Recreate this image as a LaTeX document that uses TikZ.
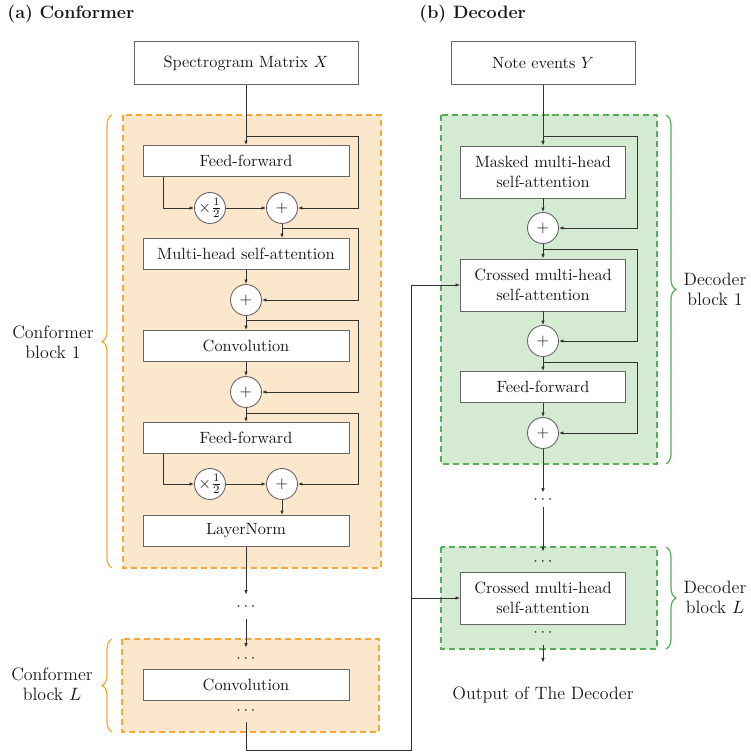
\documentclass[tikz,border=0pt]{standalone}
\usetikzlibrary{arrows.meta,decorations.pathreplacing,calc}
\definecolor{obord}{HTML}{F5A83A}
\definecolor{ofill}{HTML}{FBE7CC}
\definecolor{gbord}{HTML}{55B055}
\definecolor{gfill}{HTML}{D5EAD3}
\definecolor{lnc}{HTML}{333333}
\begin{document}
\begin{tikzpicture}[x=0.6135pt,y=-0.6135pt,
  font=\fontsize{10}{12.6}\selectfont,
  every node/.style={text=black!90},
  line width=0.5pt,
  blk/.style={draw=black!60, fill=white, line width=0.55pt, minimum width=126.4pt, minimum height=19pt, inner sep=0pt, align=center},
  dblk/.style={blk, minimum width=101.2pt, minimum height=31.9pt},
  sumc/.style={circle, draw=black!60, fill=white, line width=0.55pt, minimum size=19pt, inner sep=0pt},
  dotsn/.style={inner sep=0pt, text height=3.7pt, text depth=0pt, minimum height=13.5pt},
  arr/.style={draw=lnc, line width=0.5pt, -{Latex[length=2.8pt,width=2.2pt]}},
  obox/.style={draw=obord, fill=ofill, line width=0.8pt, dash pattern=on 3.7pt off 2.45pt},
  gbox/.style={draw=gbord, fill=gfill, line width=0.8pt, dash pattern=on 3.7pt off 2.45pt},
  obrace/.style={draw=obord, line width=0.74pt, decorate, decoration={brace, amplitude=6.1pt}},
  gbrace/.style={draw=gbord, line width=0.74pt, decorate, decoration={brace, amplitude=6.1pt}},
  lbl/.style={align=center, inner sep=0pt, font=\fontsize{11}{12.3}\selectfont},
  ttl/.style={anchor=west, inner sep=0pt, font=\fontsize{11}{13.6}\selectfont\bfseries}
]
\useasboundingbox (0,0) rectangle (751,753);

% titles
\node[ttl] (ta) at (7,14) {(a) Conformer};
\node[ttl] (tb) at (419,14) {(b) Decoder};

% block backgrounds
\draw[obox] (123,115) rectangle (381,568);
\draw[obox] (122,639) rectangle (379,732);
\draw[gbox] (441,115) rectangle (657,464);
\draw[gbox] (441,547) rectangle (657,649);

% braces
\draw[obrace] (112,568) -- (112,115);
\draw[obrace] (112,732) -- (112,639);
\draw[gbrace] (666,115) -- (666,464);
\draw[gbrace] (666,547) -- (666,649);
\node[lbl] (lc1) at (53,342) {Conformer\\block 1};
\node[lbl] (lcL) at (52,684) {Conformer\\block $L$};
\node[lbl] (ld1) at (715,289) {Decoder\\block 1};
\node[lbl] (ldL) at (715,597) {Decoder\\block $L$};

% ---------------- Conformer ----------------
\node[blk, minimum width=137.4pt, minimum height=26.4pt] (spec) at (246,63) {Spectrogram Matrix $X$};
\node[blk] (ff1) at (246,161) {Feed-forward};
\node[sumc] (h1) at (210,208) {$\times\frac{1}{2}$};
\node[sumc] (p1) at (282,208) {$+$};
\node[blk] (mhsa) at (246,254) {Multi-head self-attention};
\node[sumc] (p2) at (246,300) {$+$};
\node[blk] (conv) at (246,346) {Convolution};
\node[sumc] (p3) at (246,392) {$+$};
\node[blk] (ff2) at (246,438) {Feed-forward};
\node[sumc] (h2) at (210,484) {$\times\frac{1}{2}$};
\node[sumc] (p4) at (282,484) {$+$};
\node[blk] (lnorm) at (246,531) {LayerNorm};
\node[dotsn, minimum height=14.7pt] (d1) at (246,607) {$\cdots$};
\node[dotsn] (dL1) at (246,659) {$\cdots$};
\node[blk] (convL) at (246,685) {Convolution};
\node[dotsn] (dL2) at (246,711) {$\cdots$};

\coordinate (b1) at (163,0);
\coordinate (c1) at (246,136); \coordinate (k1) at (358,208);
\coordinate (c2) at (282,228); \coordinate (k2) at (358,300);
\coordinate (c3) at (246,320); \coordinate (k3) at (358,392);
\coordinate (c4) at (246,413); \coordinate (k4) at (358,484);

\draw[arr] (spec) -- (ff1);
\draw[arr] (c1) -| (k1) -- (p1.east);
\draw[arr] (ff1.south -| b1) |- (h1.west);
\draw[arr] (h1) -- (p1);
\draw[arr] (p1.south) -- (p1.south |- mhsa.north);
\draw[arr] (c2) -| (k2) -- (p2.east);
\draw[arr] (mhsa) -- (p2);
\draw[arr] (p2) -- (conv);
\draw[arr] (c3) -| (k3) -- (p3.east);
\draw[arr] (conv) -- (p3);
\draw[arr] (p3) -- (ff2);
\draw[arr] (c4) -| (k4) -- (p4.east);
\draw[arr] (ff2.south -| b1) |- (h2.west);
\draw[arr] (h2) -- (p4);
\draw[arr] (p4.south) -- (p4.south |- lnorm.north);
\draw[arr] (lnorm) -- (d1);
\draw[arr] (d1) -- (dL1);

% ---------------- Decoder ----------------
\node[blk, minimum width=112.9pt, minimum height=26.4pt] (note) at (543,63) {Note events $Y$};
\node[dblk] (mask) at (543,172) {Masked multi-head\\self-attention};
\node[sumc] (q1) at (543,228) {$+$};
\node[dblk] (cr1) at (543,285) {Crossed multi-head\\self-attention};
\node[sumc] (q2) at (543,341) {$+$};
\node[blk, minimum width=101.2pt] (dff) at (543,387) {Feed-forward};
\node[sumc] (q3) at (543,433) {$+$};
\node[dotsn, minimum height=8.6pt] (dd) at (543,500) {$\cdots$};
\node[dotsn, minimum height=12.3pt] (ddL1) at (543,562) {$\cdots$};
\node[dblk] (crL) at (543,598) {Crossed multi-head\\self-attention};
\node[dotsn, minimum height=14.7pt] (ddL2) at (543,633) {$\cdots$};
\node[inner xsep=1pt, inner ysep=0pt, font=\fontsize{11}{13.6}\selectfont, text height=8pt, text depth=2.7pt, minimum height=39.3pt] (out) at (543,695) {Output of The Decoder};

\coordinate (m1) at (543,136); \coordinate (n1) at (637,228);
\coordinate (m2) at (543,249); \coordinate (n2) at (637,341);
\coordinate (m3) at (543,362); \coordinate (n3) at (637,433);

\draw[arr] (note) -- (mask);
\draw[arr] (m1) -| (n1) -- (q1.east);
\draw[arr] (mask) -- (q1);
\draw[arr] (q1) -- (cr1);
\draw[arr] (m2) -| (n2) -- (q2.east);
\draw[arr] (cr1) -- (q2);
\draw[arr] (q2) -- (dff);
\draw[arr] (m3) -| (n3) -- (q3.east);
\draw[arr] (dff) -- (q3);
\draw[arr] (q3) -- (dd);
\draw[arr] (dd) -- (ddL1);
\draw[arr] (ddL2) -- (out);

% encoder output to decoder
\coordinate (e2) at (411,750);
\draw[arr] (dL2.south) |- (e2) |- (cr1.west);
\draw[arr] (e2 |- crL.west) -- (crL.west);
\end{tikzpicture}
\end{document}
